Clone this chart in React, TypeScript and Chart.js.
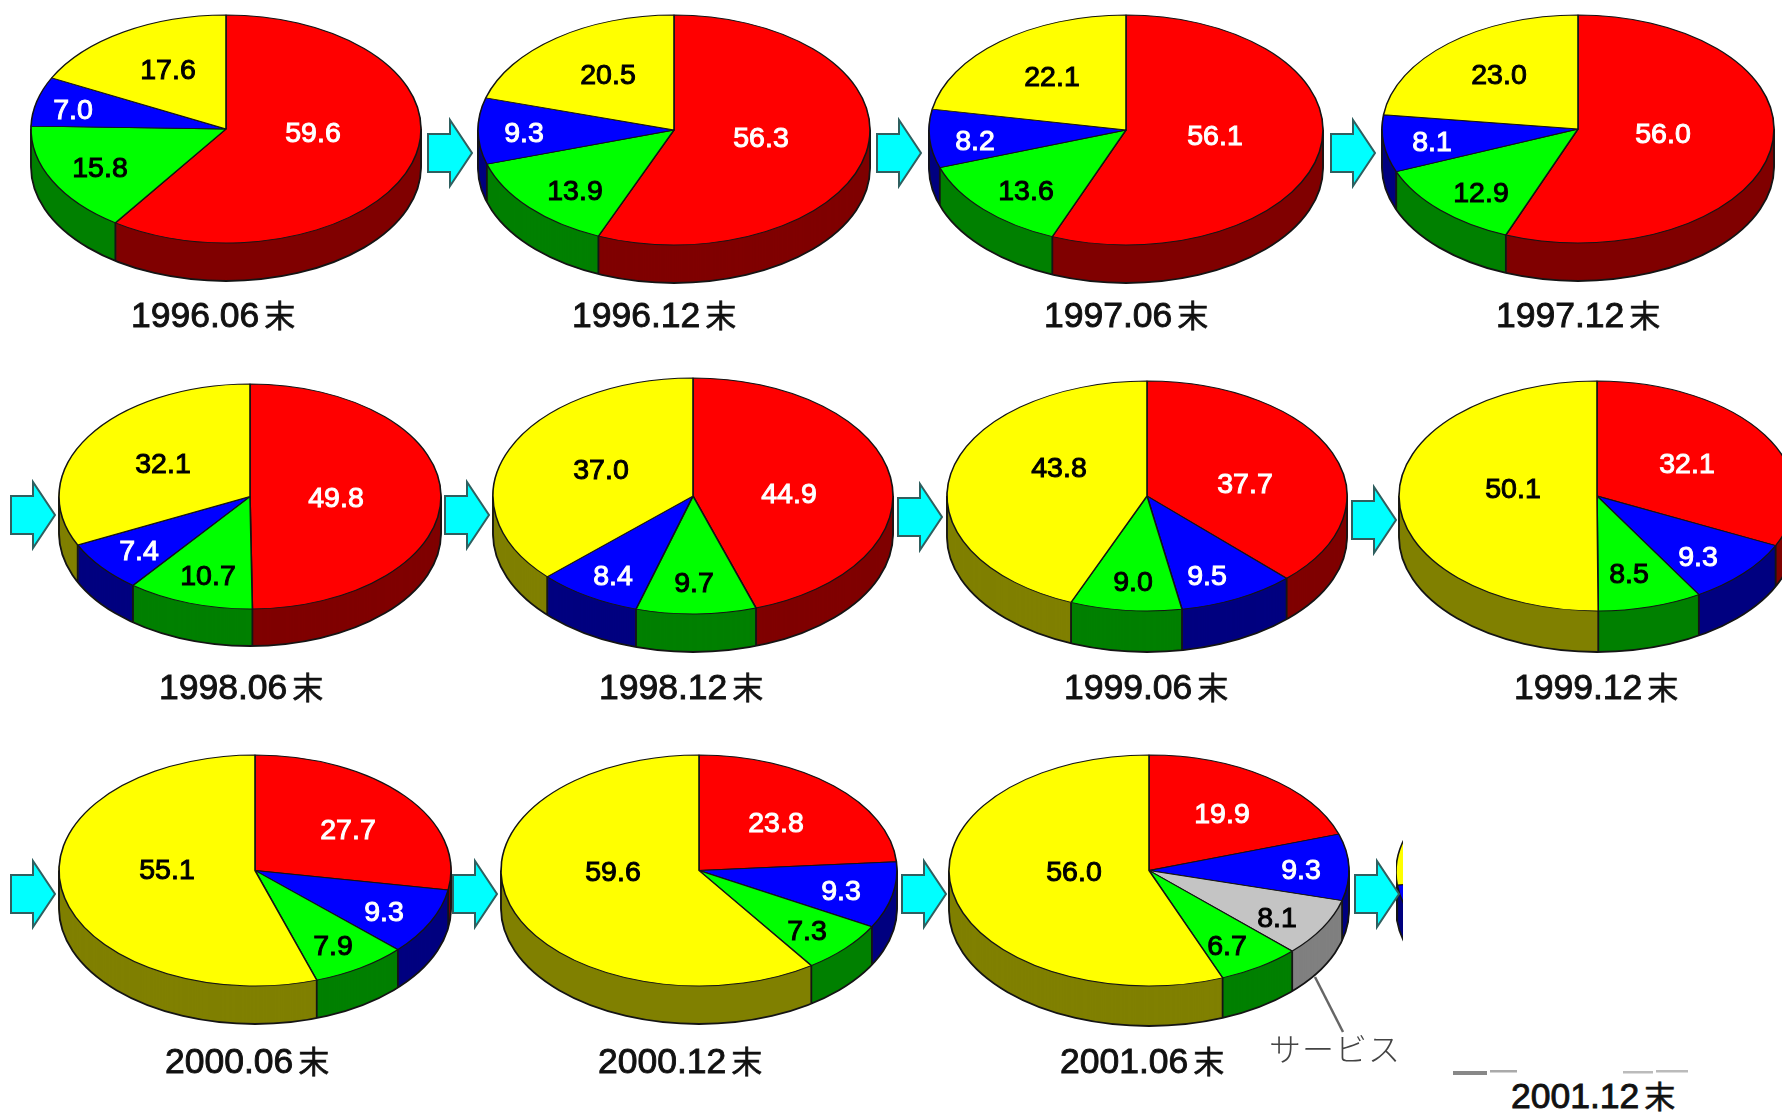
import React, { useEffect, useRef } from "react";
import { Chart, registerables } from "chart.js";

Chart.register(...registerables);

const periods = ["1996.06", "1996.12", "1997.06", "1997.12", "1998.06", "1998.12", "1999.06", "1999.12", "2000.06", "2000.12", "2001.06", "2001.12"];
const red = [59.6, 56.3, 56.1, 56.0, 49.8, 44.9, 37.7, 32.1, 27.7, 23.8, 19.9];
const green = [15.8, 13.9, 13.6, 12.9, 10.7, 9.7, 9.0, 8.5, 7.9, 7.3, 6.7];
const blue = [7.0, 9.3, 8.2, 8.1, 7.4, 8.4, 9.5, 9.3, 9.3, 9.3, 9.3];
const yellow = [17.6, 20.5, 22.1, 23.0, 32.1, 37.0, 43.8, 50.1, 55.1, 59.6, 56.0];
const service = [8.1];
// Only the left edge of the last pie survives in the picture (estimated).
const lastPie = [50.0, 23.2, 26.8];

const BRIGHT: Record<string, string> = { r: "#FF0000", g: "#00FF00", b: "#0000FF", y: "#FFFF00", s: "#C4C4C4" };
const DARK: Record<string, string> = { r: "#800000", g: "#008000", b: "#000080", y: "#808000", s: "#808080" };
const INK: Record<string, string> = { r: "#fff", g: "#000", b: "#fff", y: "#000", s: "#000" };

function slices(i: number): { key: string; value: number }[] {
  if (i === 11) return [{ key: "r", value: lastPie[0] }, { key: "b", value: lastPie[1] }, { key: "y", value: lastPie[2] }];
  const out = [{ key: "r", value: red[i] }];
  if (i < 6) out.push({ key: "g", value: green[i] }, { key: "b", value: blue[i] });
  else {
    out.push({ key: "b", value: blue[i] });
    if (i === 10) out.push({ key: "s", value: service[0] });
    out.push({ key: "g", value: green[i] });
  }
  out.push({ key: "y", value: yellow[i] });
  return out;
}

// layout: [centre x, centre y, radius x, radius y, depth]
const GEOM = [
  [226, 128.5, 195, 114, 38], [674, 129.5, 196, 115, 38], [1126, 129.5, 197, 115, 38], [1578, 128.5, 196, 114, 38],
  [250, 496, 191, 112.5, 37], [693, 496, 200, 118, 38], [1147, 496, 200, 115, 41], [1597, 496, 198, 115, 41],
  [254.5, 870.5, 196, 115.5, 38], [699, 870.5, 198, 115.5, 38], [1149, 870.5, 200, 115.5, 40], [1591, 872, 195, 115, 37],
];
// layout: label centres per pie, in slice order
const LABELS = [
  [[313, 134], [100, 169], [73, 111], [168, 71]],
  [[761, 139], [575, 192], [524, 134], [608, 76]],
  [[1215, 137], [1026, 192], [975, 142], [1052, 78]],
  [[1663, 135], [1481, 194], [1432, 143], [1499, 76]],
  [[336, 499], [208, 577], [139, 552], [163, 465]],
  [[789, 495], [694, 584], [613, 577], [601, 471]],
  [[1245, 485], [1207, 577], [1133, 583], [1059, 469]],
  [[1687, 465], [1698, 558], [1629, 575], [1513, 490]],
  [[348, 831], [384, 913], [333, 947], [167, 871]],
  [[776, 824], [841, 892], [807, 932], [613, 873]],
  [[1222, 815], [1301, 871], [1277, 919], [1227, 947], [1074, 873]],
  [],
];
const CAPTIONS = [
  [131, 314], [572, 314], [1044, 314], [1496, 314],
  [159, 686], [599, 686], [1064, 686], [1514, 686],
  [165, 1060], [598, 1060], [1060, 1060], [1511, 1095],
];
const ARROWS = [
  [428, 153], [877, 153], [1331, 153],
  [11, 515], [445, 515], [898, 517], [1352, 520],
  [11, 894], [453, 894], [902, 894], [1355, 894],
];

const FONT = "Liberation Sans, Arial, sans-serif";

function Pie({ index }: { index: number }) {
  const ref = useRef<HTMLCanvasElement | null>(null);
  const [cx, cy, rx, ry, depth] = GEOM[index];
  const W = 2 * Math.ceil(rx) + 10;
  const left = Math.round(cx - W / 2);
  const top = Math.round(cy - ry - 5);

  useEffect(() => {
    const parts = slices(index);
    const k = ry / rx;
    const y0 = 5 + ry;
    const apply = (ctx: CanvasRenderingContext2D, chart: any, d: number) => {
      const c = chart.getDatasetMeta(0).data[0];
      ctx.translate(c.x, y0 + d);
      ctx.scale(1, k);
      ctx.translate(-c.x, -c.y);
    };
    const plugin = {
      id: "pie3d",
      beforeDatasetDraw(chart: any) {
        const ctx: CanvasRenderingContext2D = chart.ctx;
        const arcs = chart.getDatasetMeta(0).data;
        for (let d = depth; d >= 1; d--) {
          ctx.save();
          apply(ctx, chart, d);
          arcs.forEach((arc: any, i: number) => {
            const keep = arc.options;
            arc.options = {
              ...keep,
              backgroundColor: DARK[parts[i].key],
              borderColor: DARK[parts[i].key],
              borderWidth: d === depth ? 0 : 1,
            };
            arc.draw(ctx);
            arc.options = keep;
          });
          ctx.restore();
        }
        // outline of the rim and the seams between slices on the front side
        ctx.save();
        const c = arcs[0];
        ctx.strokeStyle = "#141414";
        ctx.lineWidth = 1.8;
        ctx.beginPath();
        ctx.ellipse(c.x, y0 + depth, rx, ry, 0, 0, Math.PI);
        ctx.moveTo(c.x - rx, y0);
        ctx.lineTo(c.x - rx, y0 + depth);
        ctx.moveTo(c.x + rx, y0);
        ctx.lineTo(c.x + rx, y0 + depth);
        arcs.forEach((arc: any) => {
          const a = arc.startAngle;
          if (Math.sin(a) > 0.02) {
            const x = c.x + rx * Math.cos(a);
            const y = y0 + ry * Math.sin(a);
            ctx.moveTo(x, y);
            ctx.lineTo(x, y + depth);
          }
        });
        ctx.stroke();
        ctx.restore();
        // the top face
        ctx.save();
        apply(ctx, chart, 0);
      },
      afterDatasetDraw(chart: any) {
        chart.ctx.restore();
      },
      afterDraw(chart: any) {
        const ctx: CanvasRenderingContext2D = chart.ctx;
        ctx.save();
        ctx.font = `28.5px ${FONT}`;
        ctx.textAlign = "center";
        ctx.textBaseline = "middle";
        ctx.lineWidth = 1;
        LABELS[index].forEach((pos, i) => {
          const text = parts[i].value.toFixed(1);
          ctx.fillStyle = INK[parts[i].key];
          ctx.strokeStyle = INK[parts[i].key];
          ctx.fillText(text, pos[0] - left, pos[1] - top);
          ctx.strokeText(text, pos[0] - left, pos[1] - top);
        });
        ctx.restore();
      },
    };
    const chart = new Chart(ref.current as HTMLCanvasElement, {
      type: "pie",
      data: {
        labels: parts.map((p) => p.key),
        datasets: [
          {
            data: parts.map((p) => p.value),
            backgroundColor: parts.map((p) => BRIGHT[p.key]),
            borderColor: "#141414",
            borderWidth: 1.6,
            clip: false,
          } as any,
        ],
      },
      options: {
        animation: false,
        responsive: false,
        maintainAspectRatio: false,
        radius: rx,
        devicePixelRatio: 1,
        events: [],
        layout: { padding: 0 },
        plugins: { legend: { display: false }, tooltip: { enabled: false }, title: { display: false } },
      } as any,
      plugins: [plugin as any],
    });
    return () => chart.destroy();
  }, [index]);

  return (
    <canvas
      ref={ref}
      width={W}
      height={W}
      style={{ position: "absolute", left, top, width: W, height: W }}
    />
  );
}

function Arrow({ x, y }: { x: number; y: number }) {
  return (
    <svg width={50} height={72} style={{ position: "absolute", left: x - 2, top: y - 36 }}>
      <polygon
        points="2,17 24,17 24,3 46,36 24,69 24,55 2,55"
        fill="#00FFFF"
        stroke="#2F5F5F"
        strokeWidth={2}
      />
    </svg>
  );
}

function Caption({ index }: { index: number }) {
  const [x, y] = CAPTIONS[index];
  return (
    <div
      style={{
        position: "absolute",
        left: x,
        top: y - 22,
        height: 44,
        whiteSpace: "nowrap",
        font: `35.5px/44px ${FONT}`,
        color: "#111",
        WebkitTextStroke: "0.9px #111",
      }}
    >
      {periods[index]}
      <span style={{ fontFamily: "Noto Sans CJK JP", fontSize: 31, marginLeft: 5, WebkitTextStroke: "0.6px #111" }}>末</span>
    </div>
  );
}

export default function App() {
  const ids = periods.map((_, i) => i);
  return (
    <div
      style={{
        position: "fixed",
        left: 0,
        top: 0,
        width: 1782,
        height: 1112,
        overflow: "hidden",
        background: "#fff",
        filter: "blur(0.7px)",
      }}
    >
      {ids.slice(0, 11).map((i) => (
        <Pie key={i} index={i} />
      ))}
      {/* the 2001.12 pie is cut off: only a sliver of its left edge is visible */}
      <div style={{ position: "absolute", left: 1396, top: 740, width: 7, height: 300, overflow: "hidden" }}>
        <div style={{ position: "absolute", left: -1396, top: -740, width: 1782, height: 1112 }}>
          <Pie index={11} />
        </div>
      </div>
      {ARROWS.map(([x, y], i) => (
        <Arrow key={i} x={x} y={y} />
      ))}
      {ids.map((i) => (
        <Caption key={i} index={i} />
      ))}
      <svg width={1782} height={1112} style={{ position: "absolute", left: 0, top: 0 }}>
        <line x1={1315} y1={977} x2={1343} y2={1032} stroke="#666" strokeWidth={2.5} />
        <rect x={1453} y={1071} width={34} height={4} fill="#888" />
        <rect x={1490} y={1070} width={27} height={2.5} fill="#aaa" />
        <rect x={1623} y={1071} width={30} height={2.5} fill="#bbb" />
        <rect x={1656} y={1070} width={32} height={2.5} fill="#bbb" />
      </svg>
      <div
        style={{
          position: "absolute",
          left: 1269,
          top: 1025,
          font: "300 32px/44px 'Noto Sans CJK JP'",
          color: "#444",
          letterSpacing: 1,
          whiteSpace: "nowrap",
        }}
      >
        サービス
      </div>
    </div>
  );
}
